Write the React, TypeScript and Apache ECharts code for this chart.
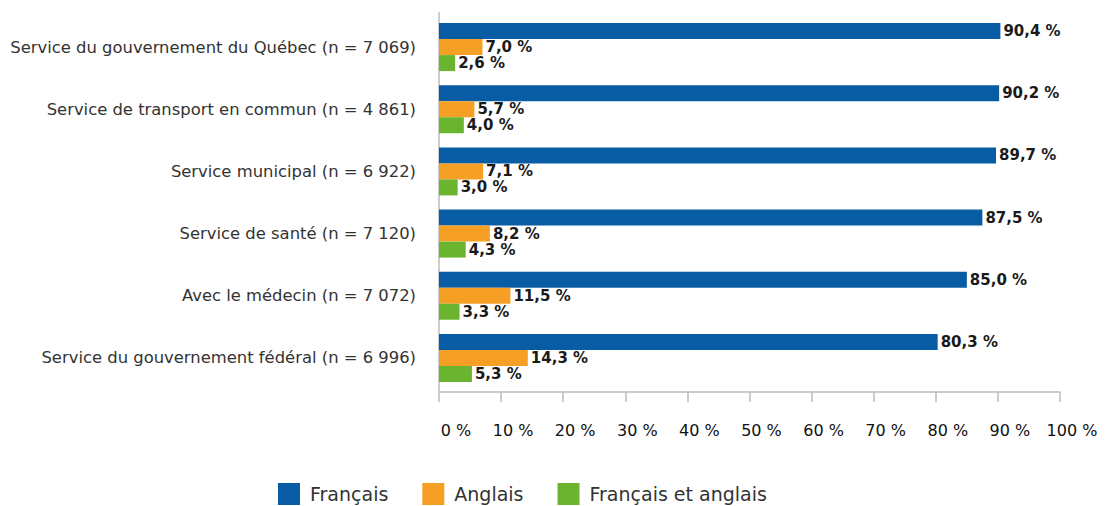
import React, { useEffect, useRef } from "react";
import * as echarts from "echarts";

const categories = [
  "Service du gouvernement du Québec (n = 7 069)",
  "Service de transport en commun (n = 4 861)",
  "Service municipal (n = 6 922)",
  "Service de santé (n = 7 120)",
  "Avec le médecin (n = 7 072)",
  "Service du gouvernement fédéral (n = 6 996)",
];
const seriesNames = ["Français", "Anglais", "Français et anglais"];
const francais = [90.4, 90.2, 89.7, 87.5, 85.0, 80.3];
const anglais = [7.0, 5.7, 7.1, 8.2, 11.5, 14.3];
const lesDeux = [2.6, 4.0, 3.0, 4.3, 3.3, 5.3];
const colors = ["#075CA3", "#F59F24", "#6AB42F"];

const FONT = "'DejaVu Sans', sans-serif";
const AXIS_COLOR = "#bdbdbd";

export default function App() {
  const ref = useRef<HTMLDivElement>(null);
  useEffect(() => {
    if (!ref.current) return;
    const chart = echarts.init(ref.current, undefined, { renderer: "svg" });
    const fmt = (p: any) => p.value.toFixed(1).replace(".", ",") + " %";
    const mk = (name: string, data: number[], color: string) => ({
      name,
      type: "bar",
      data,
      barGap: "0%",
      barCategoryGap: "22.8%",
      itemStyle: { color },
      label: {
        show: true,
        position: "right",
        distance: 3,
        formatter: fmt,
        color: "#1a1a1a",
        fontFamily: FONT,
        fontSize: 15,
        fontWeight: "bold",
      },
    });
    chart.setOption({
      animation: false,
      textStyle: { fontFamily: FONT },
      color: colors,
      grid: { left: 439, right: 46, top: 16, bottom: 117, containLabel: false },
      graphic: [
        {
          type: "line",
          shape: { x1: 439, y1: 12, x2: 439, y2: 392 },
          style: { stroke: AXIS_COLOR, lineWidth: 1.5 },
          silent: true,
        },
      ],
      legend: {
        bottom: 1,
        left: 278,
        padding: 0,
        itemWidth: 22,
        itemHeight: 22,
        itemGap: 34,
        icon: "rect",
        textStyle: { fontFamily: FONT, fontSize: 19, color: "#333", padding: [0, 0, 0, 5] },
        data: seriesNames,
      },
      xAxis: {
        type: "value",
        min: 0,
        max: 100,
        interval: 10,
        offset: 3,
        splitLine: { show: false },
        axisLine: { show: true, lineStyle: { color: AXIS_COLOR, width: 1.5 } },
        axisTick: { show: true, length: 10, lineStyle: { color: AXIS_COLOR, width: 1.5 } },
        axisLabel: {
          margin: 30,
          formatter: (v: number) => (v === 0 ? "{z|0 %}" : "{n|" + v + " %}"),
          fontFamily: FONT,
          fontSize: 16,
          color: "#111",
          rich: {
            z: { fontFamily: FONT, fontSize: 16, color: "#111", padding: [0, 0, 0, 34] },
            n: { fontFamily: FONT, fontSize: 16, color: "#111", padding: [0, 0, 0, 24] },
          },
        },
      },
      yAxis: {
        type: "category",
        data: categories,
        inverse: true,
        axisLine: { show: false },
        axisTick: { show: false },
        axisLabel: { margin: 23, fontFamily: FONT, fontSize: 16.4, color: "#333" },
      },
      series: [
        mk(seriesNames[0], francais, colors[0]),
        mk(seriesNames[1], anglais, colors[1]),
        mk(seriesNames[2], lesDeux, colors[2]),
      ],
    });
    return () => chart.dispose();
  }, []);
  return <div ref={ref} style={{ width: 1106, height: 506, position: "absolute", left: 0, top: 0 }} />;
}
